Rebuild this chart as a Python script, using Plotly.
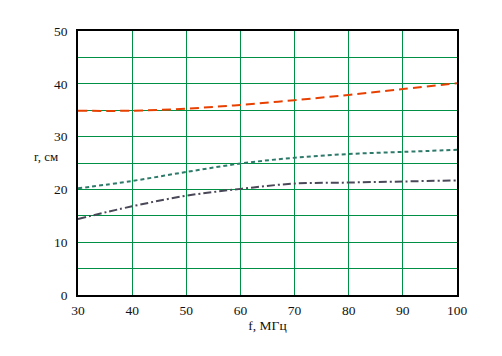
import plotly.graph_objects as go

f_vals = [30, 40, 50, 60, 70, 80, 90, 100]
r_red = [34.9, 34.9, 35.3, 36.0, 36.9, 37.9, 39.0, 40.1]
r_teal = [20.2, 21.6, 23.3, 24.9, 26.0, 26.7, 27.1, 27.5]
r_dark = [14.4, 16.8, 18.8, 20.1, 21.1, 21.3, 21.5, 21.7]

x_ticks = [30, 40, 50, 60, 70, 80, 90, 100]
y_ticks = [0, 10, 20, 30, 40, 50]

SERIF = "Liberation Serif, Times New Roman, serif"
GREEN = "#009045"

fig = go.Figure()
fig.add_trace(go.Scatter(x=f_vals, y=r_teal, mode="lines",
                         line=dict(color="#2e7a6a", width=2, dash="4px,3px", shape="spline")))
fig.add_trace(go.Scatter(x=f_vals, y=r_dark, mode="lines",
                         line=dict(color="#4a4858", width=2, dash="8px,3px,2px,3px", shape="spline")))
fig.add_trace(go.Scatter(x=f_vals, y=r_red, mode="lines",
                         line=dict(color="#e84000", width=2, dash="9px,5px", shape="spline")))

font = dict(family=SERIF, size=13.5, color="#111")
fig.update_layout(
    width=502, height=356,
    margin=dict(l=70, r=53, t=23, b=69),
    paper_bgcolor="white", plot_bgcolor="white",
    showlegend=False,
    font=font,
    xaxis=dict(range=[30, 100], tickvals=x_ticks, ticktext=[str(v) for v in x_ticks],
               showgrid=True, gridcolor=GREEN, gridwidth=1.2,
               showline=True, linecolor="#000", linewidth=1.5, mirror=True,
               ticks="", zeroline=False, ticklabelstandoff=2,
               title=dict(text="f, МГц", font=font, standoff=4)),
    yaxis=dict(range=[0, 50], tickvals=y_ticks, ticktext=[str(v) for v in y_ticks],
               showgrid=True, gridcolor=GREEN, gridwidth=1.2,
               showline=True, linecolor="#000", linewidth=1.5, mirror=True,
               ticks="", zeroline=False, ticklabelstandoff=6,
               minor=dict(dtick=5, showgrid=True, gridcolor=GREEN, gridwidth=1.2)),
    annotations=[dict(text="r, см", x=-0.085, xref="paper", xanchor="center",
                      y=0.523, yref="paper", yanchor="middle", showarrow=False,
                      font=dict(family=SERIF, size=13, color="#111"))],
)
fig.write_html("out.html")
